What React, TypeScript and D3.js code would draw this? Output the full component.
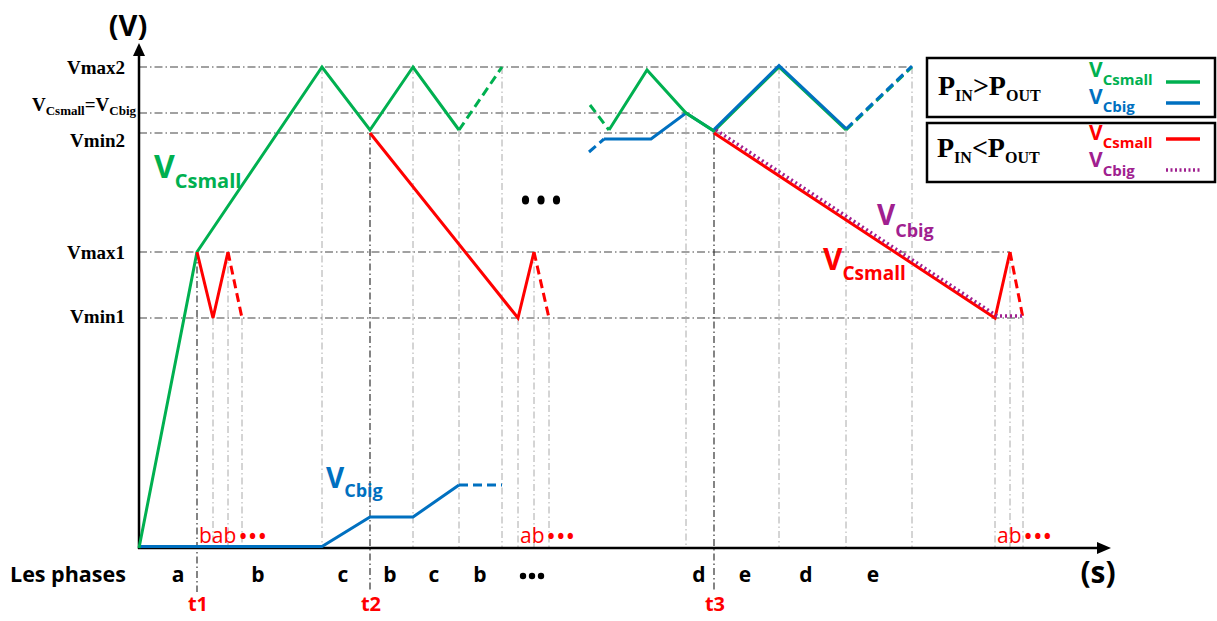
// Capacitor voltage waveforms (VCsmall / VCbig) with phase annotations
import React from 'react';
import * as d3 from 'd3';

const W = 1217;
const H = 621;

// voltage levels, arbitrary units (0..100)
const levelLabels = ['Vmax2', 'Veq', 'Vmin2', 'Vmax1', 'Vmin1'];
const levelValues = [96.2, 87, 83, 59.2, 46];
const levelEnds = [773, 554, 707, 871, 884];
const levelLabelDy = [7, -2, 14, 7, 5];

// time instants (arbitrary units) of the vertical guides and the level they start from
const guideTimes = [58, 74, 89, 103, 183, 231, 274, 320, 363, 379, 395, 410, 547, 575, 640, 707, 773, 856, 871, 884];
const guideTops = [59.2, 46, 59.2, 46, 96.2, 83, 96.2, 83.6, 96.2, 46, 59.2, 46, 87, 83, 96.2, 83.6, 96.2, 46, 59.2, 46];

const markerLabels = ['t1', 't2', 't3'];
const markerTimes = [58, 231, 575];

const phaseLabels = ['a', 'b', 'c', 'b', 'c', 'b', 'd', 'e', 'd', 'e'];
const phaseTimes = [39, 119, 204, 251, 295, 341, 560, 606, 667, 734];
const phaseEllipsisTime = 393;

const subPhaseLabels = ['bab', 'ab', 'ab'];
const subPhaseTimes = [60, 381, 858];

type Pt = [number, number];

// VCsmall, PIN > POUT (green)
const greenSolidA: Pt[] = [[0, 0], [58, 59.2], [183, 96.2], [231, 83.6], [274, 96.2], [320, 83.6]];
const greenDashA: Pt[] = [[320, 83.6], [363, 96.2]];
const greenDashB: Pt[] = [[451, 88.6], [470, 83.6]];
const greenSolidB: Pt[] = [[470, 83.6], [508, 95.6], [547, 87], [575, 83.4], [640, 96.2], [707, 83.6]];
const greenDashC: Pt[] = [[707, 83.6], [773, 96.2]];

// VCbig, PIN > POUT (blue)
const blueSolidA: Pt[] = [[0, 0.3], [183, 0.3], [231, 6.2], [274, 6.2], [320, 12.6]];
const blueDashA: Pt[] = [[320, 12.6], [363, 12.6]];
const blueDashB: Pt[] = [[450, 79.2], [465, 81.8]];
const blueSolidB: Pt[] = [[465, 81.8], [512, 81.8], [547, 87], [575, 83.4]];
const blueSolidC: Pt[] = [[575, 83.4], [640, 96.2], [707, 83.6]];
const blueDashC: Pt[] = [[707, 83.6], [773, 96.2]];

// VCsmall, PIN < POUT (red)
const redSolidA: Pt[] = [[58, 59.2], [74, 46], [89, 59.2]];
const redDashA: Pt[] = [[89, 59.2], [103, 46]];
const redSolidB: Pt[] = [[231, 83], [379, 46], [395, 59.2]];
const redDashB: Pt[] = [[395, 59.2], [410, 46]];
const redSolidC: Pt[] = [[575, 83], [856, 46], [871, 59.2]];
const redDashC: Pt[] = [[871, 59.2], [884, 46]];

// VCbig, PIN < POUT (purple dotted)
const purpleDot: Pt[] = [[575, 83.2], [856, 46], [884, 46]];

const GREEN = '#00B050';
const BLUE = '#0070C0';
const RED = '#FF0000';
const PURPLE = '#A0208F';
const SANS = '"Open Sans", "Noto Sans", sans-serif';
const SERIF = '"Liberation Serif", "DejaVu Serif", serif';

const x = d3.scaleLinear().domain([0, 968]).range([139, 1107]);
const y = d3.scaleLinear().domain([0, 100]).range([548, 48]);
const line = d3.line<Pt>().x(d => x(d[0])).y(d => y(d[1]));

const Sub = ({ px, py, main, sub, size, subSize, dy, color, family = SANS }:
  { px: number; py: number; main: string; sub: string; size: number; subSize: number; dy: number; color: string; family?: string }) => (
  <text x={px} y={py} fill={color} fontFamily={family} fontWeight="bold" fontSize={size}>
    {main}<tspan fontSize={subSize} dy={dy}>{sub}</tspan>
  </text>
);

export default function App() {
  const x0 = x(0);
  const yAxis = y(0);
  const solid = (d: Pt[], color: string, key: string, extra: any = {}) => (
    <path key={key} d={line(d) as string} fill="none" stroke={color} strokeWidth={3} strokeLinejoin="miter" {...extra} />
  );
  const dashed = (d: Pt[], color: string, key: string, extra: any = {}) =>
    solid(d, color, key, { strokeDasharray: '9,5', ...extra });

  return (
    <svg width={W} height={H} style={{ position: 'absolute', left: 0, top: 0, background: '#fff' }}>
      {/* horizontal level guides */}
      {levelValues.map((v, i) => (
        <line key={'h' + i} x1={x0} x2={x(levelEnds[i])} y1={y(v)} y2={y(v)}
          stroke="#444" strokeWidth={1.1} strokeDasharray="8,3,1.5,3" />
      ))}
      {/* vertical guides */}
      {guideTimes.map((t, i) => {
        const dark = markerTimes.includes(t);
        return (
          <line key={'v' + i} x1={x(t)} x2={x(t)} y1={y(guideTops[i])} y2={dark ? 592 : yAxis}
            stroke={dark ? '#333' : '#aaa'} strokeWidth={dark ? 1.2 : 1} strokeDasharray="7,3,1.5,3" />
        );
      })}

      {/* axes */}
      <line x1={x0} x2={x0} y1={yAxis + 1} y2={54} stroke="#000" strokeWidth={2.5} />
      <path d={`M${x0 - 6},56 L${x0},43 L${x0 + 6},56 Z`} fill="#000" />
      <line x1={x0 - 1} x2={1098} y1={yAxis} y2={yAxis} stroke="#000" strokeWidth={2.5} />
      <path d={`M1097,${yAxis - 6} L1111,${yAxis} L1097,${yAxis + 6} Z`} fill="#000" />
      <text x={128} y={36} textAnchor="middle" fontFamily={SANS} fontWeight="bold" fontSize={29}>(V)</text>
      <text x={1098} y={583} textAnchor="middle" fontFamily={SANS} fontWeight="bold" fontSize={30}>(s)</text>

      {/* level labels */}
      {levelLabels.map((lab, i) => lab === 'Veq' ? (
        <text key={'l' + i} x={136} y={y(levelValues[i]) + levelLabelDy[i]} textAnchor="end"
          fontFamily={SERIF} fontWeight="bold" fontSize={19}>
          V<tspan fontSize={13} dy={4}>Csmall</tspan><tspan dy={-4}>=V</tspan><tspan fontSize={13} dy={4}>Cbig</tspan>
        </text>
      ) : (
        <text key={'l' + i} x={125} y={y(levelValues[i]) + levelLabelDy[i]} textAnchor="end"
          fontFamily={SERIF} fontWeight="bold" fontSize={19}>{lab}</text>
      ))}

      {/* waveforms */}
      {solid(blueSolidA, BLUE, 'bsa')}
      {dashed(blueDashA, BLUE, 'bda')}
      {solid(greenSolidA, GREEN, 'gsa')}
      {dashed(greenDashA, GREEN, 'gda')}
      {solid(redSolidA, RED, 'rsa')}
      {dashed(redDashA, RED, 'rda')}
      {solid(redSolidB, RED, 'rsb')}
      {dashed(redDashB, RED, 'rdb')}
      {dashed(greenDashB, GREEN, 'gdb')}
      {dashed(blueDashB, BLUE, 'bdb')}
      {solid(blueSolidB, BLUE, 'bsb')}
      {solid(greenSolidB, GREEN, 'gsb')}
      {dashed(greenDashC, GREEN, 'gdc')}
      {solid(blueSolidC, BLUE, 'bsc', { transform: 'translate(0,-1.5)' })}
      {dashed(blueDashC, BLUE, 'bdc', { transform: 'translate(0,-1)' })}
      {solid(redSolidC, RED, 'rsc')}
      {dashed(redDashC, RED, 'rdc')}
      <path d={line(purpleDot) as string} fill="none" stroke={PURPLE} strokeWidth={3.5}
        strokeDasharray="2,3" transform="translate(2,-2)" />

      {/* ellipsis in the middle */}
      {[-1, 0, 1].map(k => (
        <ellipse key={'e' + k} cx={x(402) + k * 15.5} cy={200} rx={3.6} ry={4.5} fill="#000" />
      ))}

      {/* curve labels */}
      <Sub px={154} py={178} main="V" sub="Csmall" size={32} subSize={20} dy={10} color={GREEN} />
      <Sub px={326} py={488} main="V" sub="Cbig" size={28} subSize={18} dy={9} color={BLUE} />
      <Sub px={877} py={225} main="V" sub="Cbig" size={28} subSize={18} dy={12} color={PURPLE} />
      <Sub px={823} py={270} main="V" sub="Csmall" size={30} subSize={19} dy={10} color={RED} />

      {/* red sub-phase annotations */}
      {subPhaseLabels.map((lab, i) => (
        <text key={'s' + i} x={x(subPhaseTimes[i])} y={543} fill={RED} fontFamily={SANS} fontSize={21}>
          {lab}<tspan fontWeight="bold" fontSize={19} dx={3} letterSpacing={2.5}>•••</tspan>
        </text>
      ))}

      {/* phases row */}
      <text x={10} y={582} fontFamily={SANS} fontWeight="bold" fontSize={21.5}>Les phases</text>
      {phaseLabels.map((p, i) => (
        <text key={'p' + i} x={x(phaseTimes[i])} y={582} textAnchor="middle" fontFamily={SANS} fontWeight="bold" fontSize={21}>{p}</text>
      ))}
      {[-1, 0, 1].map(k => (
        <circle key={'pe' + k} cx={x(phaseEllipsisTime) + k * 9} cy={576} r={3.2} fill="#000" />
      ))}
      {markerLabels.map((m, i) => (
        <text key={'m' + i} x={x(markerTimes[i]) + 1} y={611} textAnchor="middle" fill={RED} fontFamily={SANS} fontWeight="bold" fontSize={20}>{m}</text>
      ))}

      {/* legend */}
      <rect x={927} y={58} width={288} height={59} fill="#fff" stroke="#000" strokeWidth={2.5} />
      <rect x={927} y={123} width={288} height={59} fill="#fff" stroke="#000" strokeWidth={2.5} />
      <text x={938} y={95} fontFamily={SERIF} fontWeight="bold" fontSize={28}>
        P<tspan fontSize={16} dy={6}>IN</tspan><tspan dy={-6}>&gt;P</tspan><tspan fontSize={16} dy={6}>OUT</tspan>
      </text>
      <text x={937} y={157} fontFamily={SERIF} fontWeight="bold" fontSize={28}>
        P<tspan fontSize={16} dy={6}>IN</tspan><tspan dy={-6}>&lt;P</tspan><tspan fontSize={16} dy={6}>OUT</tspan>
      </text>
      <Sub px={1089} py={77} main="V" sub="Csmall" size={21} subSize={15} dy={8} color={GREEN} />
      <Sub px={1089} py={104} main="V" sub="Cbig" size={21} subSize={15} dy={8} color={BLUE} />
      <Sub px={1089} py={140} main="V" sub="Csmall" size={21} subSize={15} dy={8} color={RED} />
      <Sub px={1089} py={167} main="V" sub="Cbig" size={21} subSize={15} dy={9} color={PURPLE} />
      <line x1={1166} x2={1200} y1={82} y2={82} stroke={GREEN} strokeWidth={3.5} />
      <line x1={1166} x2={1200} y1={103} y2={103} stroke={BLUE} strokeWidth={3.5} />
      <line x1={1166} x2={1200} y1={139} y2={139} stroke={RED} strokeWidth={3.5} />
      <line x1={1166} x2={1200} y1={170} y2={170} stroke={PURPLE} strokeWidth={3.5} strokeDasharray="2,2.5" />
    </svg>
  );
}
